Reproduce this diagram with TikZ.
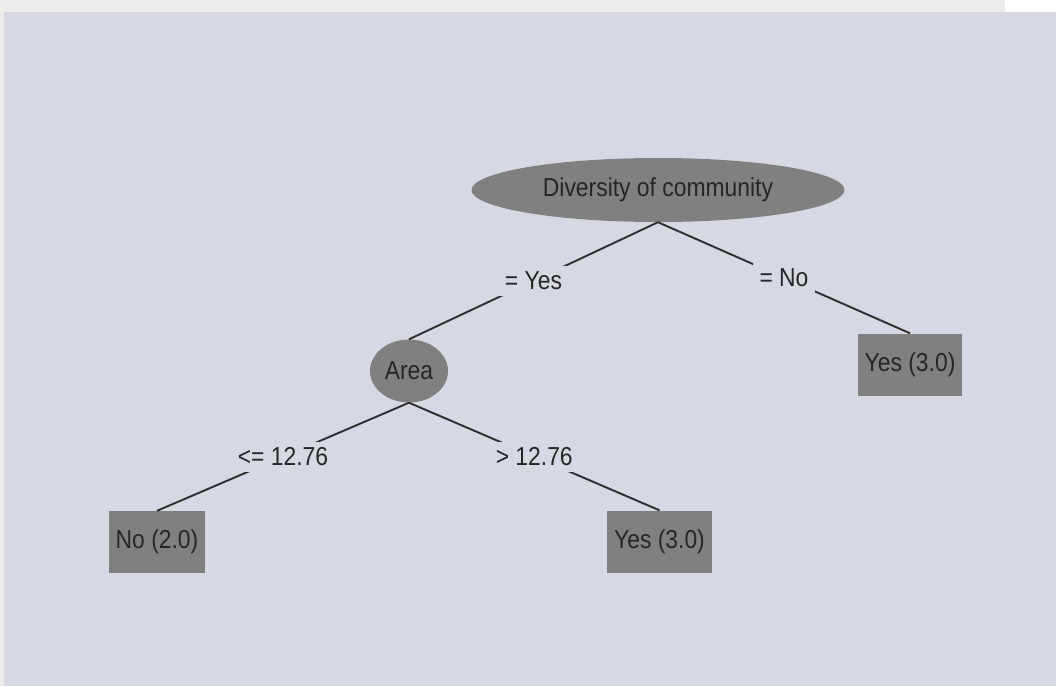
\documentclass[tikz,border=0pt]{standalone}
\usepackage{fontspec}
\usetikzlibrary{shapes.geometric}
\newfontfamily\treefont[FakeStretch=0.88]{Liberation Sans}
\definecolor{panel}{HTML}{D6D9E1}
\definecolor{strip}{HTML}{ECECEA}
\definecolor{nodegray}{HTML}{808080}
\definecolor{edgegray}{HTML}{2E2E2E}
\begin{document}
\begin{tikzpicture}[x=1pt,y=-1pt,
  every node/.style={font=\treefont\fontsize{26}{26}\selectfont, text=black!85},
  splitnode/.style={ellipse, fill=nodegray, inner sep=0pt},
  leafbox/.style={rectangle, fill=nodegray, inner xsep=7pt, inner ysep=0pt, minimum height=62pt},
  edge/.style={draw=edgegray, line width=1.9pt},
  edgelabel/.style={fill=panel, inner xsep=7pt, inner ysep=0pt, minimum height=30pt}]
  % frame and panel
  \fill[strip] (0,0) rectangle (1056,686);
  \fill[white] (1005,0) rectangle (1056,12);
  \fill[panel] (4,12) rectangle (1056,686);
  \useasboundingbox (0,0) rectangle (1056,686);

  % nodes
  \node[splitnode, minimum width=373pt, minimum height=64pt] (div) at (658,190) {Diversity of community};
  \node[splitnode, minimum width=78pt, minimum height=63pt] (area) at (409,371) {Area};
  \node[leafbox] (yesR) at (910,364.5) {Yes (3.0)};
  \node[leafbox] (noL) at (157,542) {No (2.0)};
  \node[leafbox] (yesM) at (659.5,541.5) {Yes (3.0)};

  % edges with their labels
  \path[edge] (div.south) -- node[edgelabel] {= Yes} (area.north);
  \path[edge] (div.south) -- node[edgelabel] {= No} (yesR.north);
  \path[edge] (area.south) -- node[edgelabel] {<= 12.76} (noL.north);
  \path[edge] (area.south) -- node[edgelabel] {> 12.76} (yesM.north);
\end{tikzpicture}
\end{document}
